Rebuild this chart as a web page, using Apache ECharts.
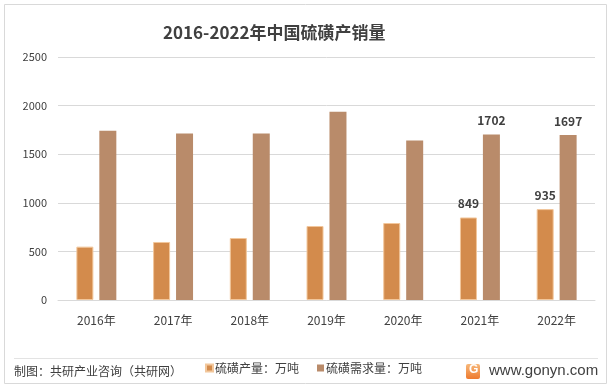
<!DOCTYPE html>
<html>
<head>
<meta charset="utf-8">
<script src="https://cdn.jsdelivr.net/npm/echarts@6/dist/echarts.min.js"></script>
<style>html,body{margin:0;padding:0;background:#fff;}#c{width:615px;height:388px;}</style>
</head>
<body>
<div id="c"></div>
<script>
var categories = ['2016年','2017年','2018年','2019年','2020年','2021年','2022年'];
var production = [549, 597, 638, 761, 792, 849, 935];
var demand = [1742, 1712, 1712, 1938, 1640, 1702, 1697];
var labeledFrom = 5;
var yTicks = [0, 500, 1000, 1500, 2000, 2500];

var chart = echarts.init(document.getElementById('c'));
var font = 'Microsoft YaHei, "Noto Sans CJK SC", sans-serif';
function lbl(arr) {
  return arr.map(function (v, i) {
    return i >= labeledFrom ? { value: v, label: { show: true } } : v;
  });
}
chart.setOption({
  animation: false,
  textStyle: { fontFamily: font },
  title: {
    text: '2016-2022年中国硫磺产销量',
    left: 158, top: 19,
    textStyle: { fontSize: 17, fontWeight: 'bold', color: '#404040', fontFamily: font }
  },
  legend: {
    left: 200, top: 357, itemWidth: 7, itemHeight: 7, itemGap: 18,
    icon: 'rect',
    textStyle: { fontSize: 12, color: '#404040', padding: [0, 0, 0, -3] },
    data: ['硫磺产量：万吨', '硫磺需求量：万吨']
  },
  grid: { left: 58, right: 20, top: 57, bottom: 88 },
  xAxis: {
    type: 'category', data: categories,
    axisLine: { lineStyle: { color: '#d9d9d9' } },
    axisTick: { show: false },
    axisLabel: { color: '#404040', fontSize: 12, margin: 14 }
  },
  yAxis: {
    type: 'value', min: yTicks[0], max: yTicks[yTicks.length - 1], interval: 500,
    axisLine: { show: false }, axisTick: { show: false },
    axisLabel: { color: '#404040', fontSize: 11, margin: 11, formatter: function (v) { return String(v); } },
    splitLine: { lineStyle: { color: '#d9d9d9' } }
  },
  series: [
    {
      name: '硫磺产量：万吨', type: 'bar', data: lbl(production),
      barWidth: 17, barGap: '35%',
      itemStyle: { color: '#D38B4C', borderColor: '#F2C79C', borderWidth: 1 },
      label: { show: false, position: 'top', color: '#404040', fontSize: 12, fontWeight: 'bold', distance: 8 }
    },
    {
      name: '硫磺需求量：万吨', type: 'bar', data: lbl(demand),
      barWidth: 17,
      itemStyle: { color: '#B98B6A' },
      label: { show: false, position: 'top', color: '#404040', fontSize: 12, fontWeight: 'bold', distance: 8 }
    }
  ],
  graphic: [
    { type: 'rect', shape: { x: 4.5, y: 4.5, width: 602, height: 379 }, style: { fill: 'none', stroke: '#d9d9d9', lineWidth: 1 }, silent: true },
    { type: 'line', shape: { x1: 14, y1: 358.5, x2: 598, y2: 358.5 }, style: { stroke: '#e3e3e3', lineWidth: 1 } },
    { type: 'text', left: 14, top: 365, style: { text: '制图：共研产业咨询（共研网）', fontSize: 12, fill: '#404040', fontFamily: font } },
    { type: 'rect', shape: { x: 466, y: 364, width: 14, height: 15, r: 2 },
      style: { fill: new echarts.graphic.LinearGradient(0, 0, 0, 1, [{ offset: 0, color: '#F7B87A' }, { offset: 1, color: '#EE7A2E' }]) } },
    { type: 'text', left: 469, top: 364, style: { text: 'G', fontSize: 12, fontWeight: 'bold', fill: '#fff', fontFamily: 'Arial' } },
    { type: 'text', left: 489, top: 363, style: { text: 'www.gonyn.com', fontSize: 15, fill: '#404040', fontFamily: 'Liberation Sans, Arial' } }
  ]
});
</script>
</body>
</html>
